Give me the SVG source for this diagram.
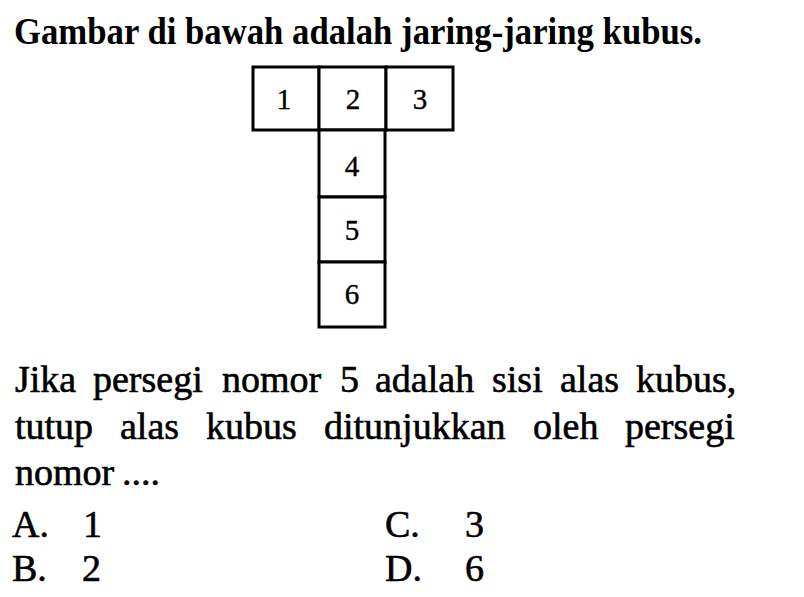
<svg xmlns="http://www.w3.org/2000/svg" width="804" height="597" viewBox="0 0 804 597">
<style>
.t{font-family:"Liberation Serif","Times New Roman",serif;fill:#000}
.title{font-size:38px;font-weight:bold}
.body{font-size:38px;stroke:#000;stroke-width:0.6}
.num{font-size:29px;text-anchor:middle;stroke:#000;stroke-width:0.4}
.sq{fill:#fff;stroke:#000;stroke-width:3}
</style>
<rect width="804" height="597" fill="#fff"/>
<text class="t title" x="14" y="44" textLength="688" lengthAdjust="spacingAndGlyphs">Gambar di bawah adalah jaring-jaring kubus.</text>
<g id="net">
<g id="sq1"><rect class="sq" x="253" y="67" width="66" height="63"/><text class="t num" x="284" y="109">1</text></g>
<g id="sq2"><rect class="sq" x="319" y="67" width="67" height="63"/><text class="t num" x="353" y="109">2</text></g>
<g id="sq3"><rect class="sq" x="386" y="67" width="67" height="63"/><text class="t num" x="420" y="109">3</text></g>
<g id="sq4"><rect class="sq" x="319" y="130" width="66" height="67"/><text class="t num" x="352" y="176">4</text></g>
<g id="sq5"><rect class="sq" x="319" y="197" width="66" height="65"/><text class="t num" x="352" y="240">5</text></g>
<g id="sq6"><rect class="sq" x="319" y="262" width="66" height="65"/><text class="t num" x="352" y="304">6</text></g>
</g>
<g id="question" class="t body">
<text y="392"><tspan x="15">Jika</tspan><tspan x="93">persegi</tspan><tspan x="222">nomor</tspan><tspan x="340">5</tspan><tspan x="375">adalah</tspan><tspan x="492">sisi</tspan><tspan x="560">alas</tspan><tspan x="636">kubus,</tspan></text>
<text y="439"><tspan x="15">tutup</tspan><tspan x="120">alas</tspan><tspan x="206">kubus</tspan><tspan x="324">ditunjukkan</tspan><tspan x="533">oleh</tspan><tspan x="625">persegi</tspan></text>
<text y="485"><tspan x="15">nomor</tspan><tspan x="122">....</tspan></text>
</g>
<g id="options" class="t body">
<text x="12" y="537">A.</text><text x="83" y="537">1</text>
<text x="385" y="537">C.</text><text x="465" y="537">3</text>
<text x="12" y="581">B.</text><text x="82" y="581">2</text>
<text x="385" y="581">D.</text><text x="465" y="581">6</text>
</g>
</svg>
